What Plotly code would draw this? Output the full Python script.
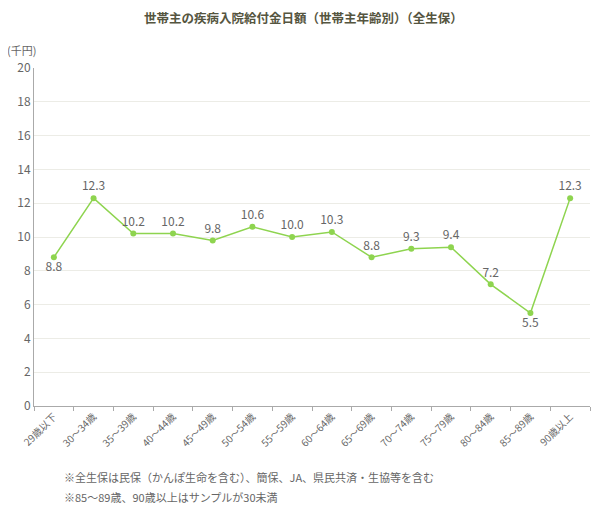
import plotly.graph_objects as go

# 世帯主年齢別の疾病入院給付金日額（千円）
age_groups = ['29歳以下', '30～34歳', '35～39歳', '40～44歳', '45～49歳', '50～54歳', '55～59歳',
              '60～64歳', '65～69歳', '70～74歳', '75～79歳', '80～84歳', '85～89歳', '90歳以上']
daily_amount = [8.8, 12.3, 10.2, 10.2, 9.8, 10.6, 10.0, 10.3, 8.8, 9.3, 9.4, 7.2, 5.5, 12.3]
label_pos = ['bottom center', 'top center', 'top center', 'top center', 'top center', 'top center',
             'top center', 'top center', 'top center', 'top center', 'top center', 'top center',
             'bottom center', 'top center']
y_ticks = [0, 2, 4, 6, 8, 10, 12, 14, 16, 18, 20]

FONT = 'Noto Sans CJK JP'
GREEN = '#8ed44f'
GRAY_TEXT = '#666666'

fig = go.Figure()
fig.add_trace(go.Scatter(
    x=age_groups,
    y=daily_amount,
    mode='lines+markers+text',
    line=dict(color=GREEN, width=1.5),
    marker=dict(color=GREEN, size=6),
    text=[f'{v:.1f}' for v in daily_amount],
    textposition=label_pos,
    textfont=dict(family=FONT, size=12, color=GRAY_TEXT),
    cliponaxis=False,
    hoverinfo='x+y'
))

# page has an 8px body margin, so the figure is a bit smaller than the window
fig.update_layout(
    width=591,
    height=506,
    margin=dict(l=26, r=9, t=60, b=108),
    paper_bgcolor='white',
    plot_bgcolor='white',
    showlegend=False,
    font=dict(family=FONT, color=GRAY_TEXT),
    title=dict(
        text='<b>世帯主の疾病入院給付金日額（世帯主年齢別）（全生保）</b>',
        x=0.5, xanchor='center', y=0.98, yanchor='middle',
        font=dict(family=FONT, size=12.5, color='#555540')
    ),
    xaxis=dict(
        type='category',
        tickson='boundaries',
        ticks='outside',
        ticklen=4,
        tickcolor='#aaaaaa',
        tickangle=-45,
        tickfont=dict(family=FONT, size=10, color=GRAY_TEXT),
        showline=True,
        linecolor='#aaaaaa',
        linewidth=1,
        showgrid=False,
        range=[-0.5, 13.5],
        automargin=False,
        fixedrange=True
    ),
    yaxis=dict(
        range=[0, 20],
        tickvals=y_ticks,
        tickfont=dict(family=FONT, size=12, color=GRAY_TEXT),
        showline=True,
        linecolor='#aaaaaa',
        linewidth=1,
        gridcolor='#ecece6',
        zeroline=False,
        ticks='',
        automargin=False,
        fixedrange=True
    ),
    annotations=[
        dict(text='(千円)', xref='paper', yref='paper', x=-0.052, y=1.052,
             xanchor='left', yanchor='middle', showarrow=False,
             font=dict(family=FONT, size=11, color=GRAY_TEXT)),
        dict(text='※全生保は民保（かんぽ生命を含む）、簡保、JA、県民共済・生協等を含む',
             xref='paper', yref='paper', x=0.05, y=-0.21,
             xanchor='left', yanchor='middle', showarrow=False,
             font=dict(family=FONT, size=11, color=GRAY_TEXT)),
        dict(text='※85～89歳、90歳以上はサンプルが30未満',
             xref='paper', yref='paper', x=0.05, y=-0.269,
             xanchor='left', yanchor='middle', showarrow=False,
             font=dict(family=FONT, size=11, color=GRAY_TEXT)),
    ]
)

fig.write_html('out.html')
